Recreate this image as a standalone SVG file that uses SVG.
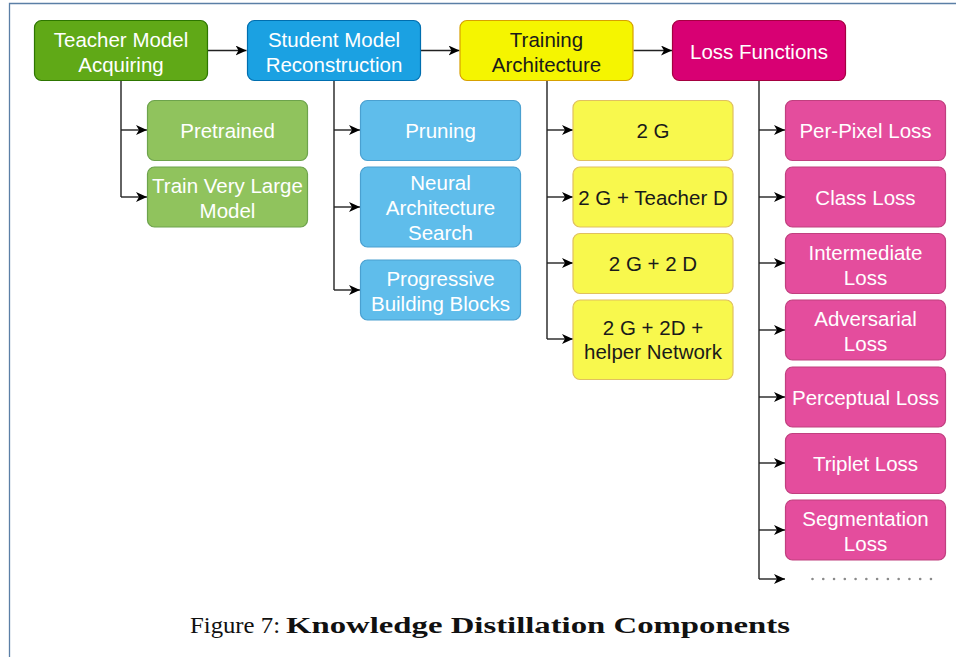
<svg xmlns="http://www.w3.org/2000/svg" width="956" height="657" viewBox="0 0 956 657">
<style>
text{font-family:"Liberation Sans",Arial,sans-serif;font-size:20.5px;text-anchor:middle}
.w{fill:#ffffff}
.k{fill:#1a1a1a}
.hg{fill:#60a917;stroke:#2d7600}
.hb{fill:#1ba1e2;stroke:#006eaf}
.hy{fill:#f5f500;stroke:#d7a000}
.hp{fill:#d80073;stroke:#a50040}
.cg{fill:#90c35d;stroke:#6da34c}
.cb{fill:#5fbdeb;stroke:#4aa0d0}
.cy{fill:#f8f84d;stroke:#e0c060}
.cp{fill:#e44d9d;stroke:#c0407f}
rect{stroke-width:1.2}
.ln{fill:none;stroke:#222;stroke-width:1.4}
.cap{font-family:"Liberation Serif","Times New Roman",serif;font-size:24px;fill:#111;text-anchor:start}
</style>
<defs>
<marker id="ah" markerUnits="userSpaceOnUse" markerWidth="12" markerHeight="11" refX="11" refY="5" orient="auto">
<path d="M0,0 L11,5 L0,10 L3,5 Z" fill="#000"/>
</marker>
</defs>
<rect x="0" y="0" width="956" height="657" fill="#fff"/>
<path d="M9.5,657 V3.5 H956" fill="none" stroke="#5b7fa6" stroke-width="1.3"/>

<g id="connectors">
<path class="ln" d="M208,50.5 H246.5" marker-end="url(#ah)"/>
<path class="ln" d="M420.5,50.5 H459.5" marker-end="url(#ah)"/>
<path class="ln" d="M633.5,50.5 H672" marker-end="url(#ah)"/>
<path class="ln" d="M121,81 V197"/>
<path class="ln" d="M121,130 H147" marker-end="url(#ah)"/>
<path class="ln" d="M121,197 H147" marker-end="url(#ah)"/>
<path class="ln" d="M334,81 V290"/>
<path class="ln" d="M334,130 H360" marker-end="url(#ah)"/>
<path class="ln" d="M334,207 H360" marker-end="url(#ah)"/>
<path class="ln" d="M334,290 H360" marker-end="url(#ah)"/>
<path class="ln" d="M547,81 V339"/>
<path class="ln" d="M547,130 H573" marker-end="url(#ah)"/>
<path class="ln" d="M547,197 H573" marker-end="url(#ah)"/>
<path class="ln" d="M547,263 H573" marker-end="url(#ah)"/>
<path class="ln" d="M547,339 H573" marker-end="url(#ah)"/>
<path class="ln" d="M759,81 V579"/>
<path class="ln" d="M759,130 H785" marker-end="url(#ah)"/>
<path class="ln" d="M759,197 H785" marker-end="url(#ah)"/>
<path class="ln" d="M759,263 H785" marker-end="url(#ah)"/>
<path class="ln" d="M759,330 H785" marker-end="url(#ah)"/>
<path class="ln" d="M759,397 H785" marker-end="url(#ah)"/>
<path class="ln" d="M759,463 H785" marker-end="url(#ah)"/>
<path class="ln" d="M759,530 H785" marker-end="url(#ah)"/>
<path class="ln" d="M759,579 H785" marker-end="url(#ah)"/>
<line x1="812.5" y1="579" x2="931" y2="579" stroke="#8a8a8a" stroke-width="2.6" stroke-linecap="round" stroke-dasharray="0 10.77"/>
</g>

<g id="teacher"><rect class="hg" x="34.5" y="20.5" width="173" height="60" rx="7"/><text class="w" x="121" y="46.5">Teacher Model</text><text class="w" x="121" y="71.5">Acquiring</text></g>
<g id="student"><rect class="hb" x="247.5" y="20.5" width="173" height="60" rx="7"/><text class="w" x="334" y="46.5">Student Model</text><text class="w" x="334" y="71.5">Reconstruction</text></g>
<g id="training"><rect class="hy" x="460" y="20.5" width="173" height="60" rx="7"/><text class="k" x="546.5" y="46.5">Training</text><text class="k" x="546.5" y="71.5">Architecture</text></g>
<g id="loss"><rect class="hp" x="672.5" y="20.5" width="173" height="60" rx="7"/><text class="w" x="759" y="58.5">Loss Functions</text></g>

<g id="pretrained"><rect class="cg" x="147.5" y="100.5" width="160" height="60" rx="7"/><text class="w" x="227.5" y="138">Pretrained</text></g>
<g id="trainlarge"><rect class="cg" x="147.5" y="167" width="160" height="60" rx="7"/><text class="w" x="227.5" y="193">Train Very Large</text><text class="w" x="227.5" y="218">Model</text></g>

<g id="pruning"><rect class="cb" x="360.5" y="100.5" width="160" height="60" rx="7"/><text class="w" x="440.5" y="138">Pruning</text></g>
<g id="nas"><rect class="cb" x="360.5" y="167" width="160" height="80" rx="7"/><text class="w" x="440.5" y="189.5">Neural</text><text class="w" x="440.5" y="214.5">Architecture</text><text class="w" x="440.5" y="239.5">Search</text></g>
<g id="progressive"><rect class="cb" x="360.5" y="260" width="160" height="60" rx="7"/><text class="w" x="440.5" y="286">Progressive</text><text class="w" x="440.5" y="311">Building Blocks</text></g>

<g id="g2"><rect class="cy" x="573" y="100.5" width="160" height="60" rx="7"/><text class="k" x="653" y="138">2 G</text></g>
<g id="g2td"><rect class="cy" x="573" y="167" width="160" height="60" rx="7"/><text class="k" x="653" y="204.5">2 G + Teacher D</text></g>
<g id="g2d2"><rect class="cy" x="573" y="233.5" width="160" height="60" rx="7"/><text class="k" x="653" y="271">2 G + 2 D</text></g>
<g id="g2d2h"><rect class="cy" x="573" y="300" width="160" height="79.5" rx="7"/><text class="k" x="653" y="335">2 G + 2D +</text><text class="k" x="653" y="358.5">helper Network</text></g>

<g id="perpixel"><rect class="cp" x="785.5" y="100.5" width="160" height="60" rx="7"/><text class="w" x="865.5" y="138">Per-Pixel Loss</text></g>
<g id="class"><rect class="cp" x="785.5" y="167" width="160" height="60" rx="7"/><text class="w" x="865.5" y="204.5">Class Loss</text></g>
<g id="intermediate"><rect class="cp" x="785.5" y="233.5" width="160" height="60" rx="7"/><text class="w" x="865.5" y="259.5">Intermediate</text><text class="w" x="865.5" y="284.5">Loss</text></g>
<g id="adversarial"><rect class="cp" x="785.5" y="300" width="160" height="60" rx="7"/><text class="w" x="865.5" y="326">Adversarial</text><text class="w" x="865.5" y="351">Loss</text></g>
<g id="perceptual"><rect class="cp" x="785.5" y="367" width="160" height="60" rx="7"/><text class="w" x="865.5" y="404.5">Perceptual Loss</text></g>
<g id="triplet"><rect class="cp" x="785.5" y="433.5" width="160" height="60" rx="7"/><text class="w" x="865.5" y="471">Triplet Loss</text></g>
<g id="segmentation"><rect class="cp" x="785.5" y="500" width="160" height="60" rx="7"/><text class="w" x="865.5" y="526">Segmentation</text><text class="w" x="865.5" y="551">Loss</text></g>

<text class="cap" x="190" y="633" textLength="90" lengthAdjust="spacingAndGlyphs">Figure 7:</text>
<text class="cap" x="286" y="633" font-weight="bold" textLength="504" lengthAdjust="spacingAndGlyphs">Knowledge Distillation Components</text>
</svg>
